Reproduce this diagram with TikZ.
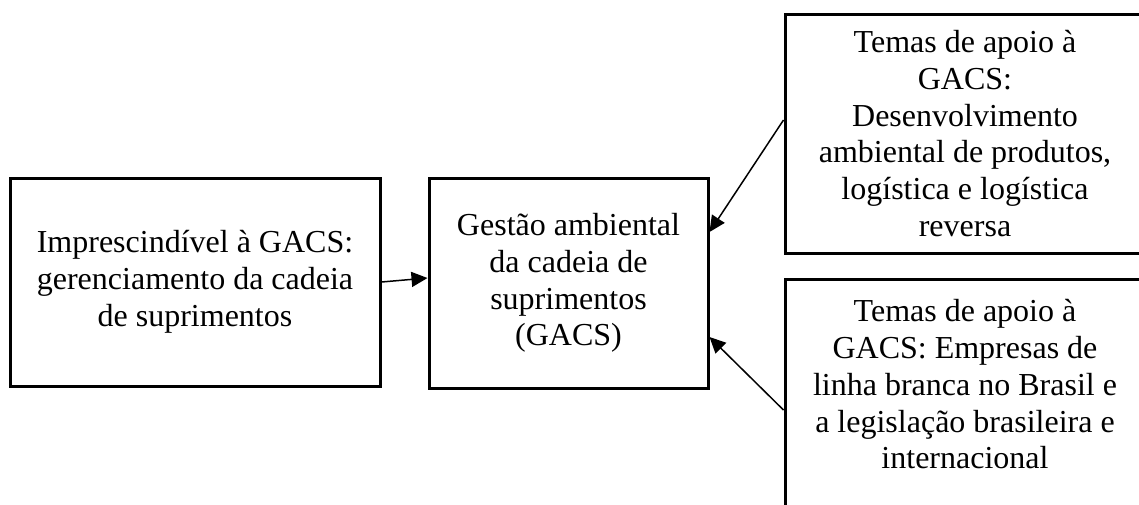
\documentclass[tikz,border=0pt]{standalone}
\usepackage{fontspec}
\setmainfont{Liberation Serif}
\usetikzlibrary{arrows.meta}
\begin{document}
\begin{tikzpicture}[x=1pt,y=-1pt,
  box/.style={draw=black, line width=3pt, rectangle, inner sep=0pt,
    align=center, font=\fontsize{32}{36.8}\selectfont},
  link/.style={draw=black, line width=1.5pt,
    -{Triangle[length=16pt,width=15pt]}}]
  \useasboundingbox (0,0) rectangle (1139,504);
  \clip (0,0) rectangle (1139,504);
  % main boxes
  \node[box, minimum width=370pt, minimum height=208pt] (base) at (195,282)
    {Imprescindível à GACS:\\gerenciamento da cadeia\\de suprimentos};
  \node[box, minimum width=279pt, minimum height=210pt] (gacs) at (568.5,283)
    {Gestão ambiental\\da cadeia de\\suprimentos\\(GACS)};
  % supporting themes, running past the right edge
  \node[box, minimum width=360pt, minimum height=239pt] (temaA) at (965,133.5)
    {Temas de apoio à\\GACS:\\Desenvolvimento\\ambiental de produtos,\\logística e logística\\reversa};
  \node[box, minimum width=360pt, minimum height=239pt] (temaB) at (965,398.5)
    {Temas de apoio à\\GACS: Empresas de\\linha branca no Brasil e\\a legislação brasileira e\\internacional\\[-8pt]\mbox{}};
  % connectors
  \draw[link] (base.east) -- ([yshift=5pt]gacs.west);
  \draw[link] ([yshift=13.5pt]temaA.west) -- ([yshift=51pt]gacs.east);
  \draw[link] ([yshift=-11.5pt]temaB.west) -- ([yshift=-54pt]gacs.east);
\end{tikzpicture}
\end{document}
